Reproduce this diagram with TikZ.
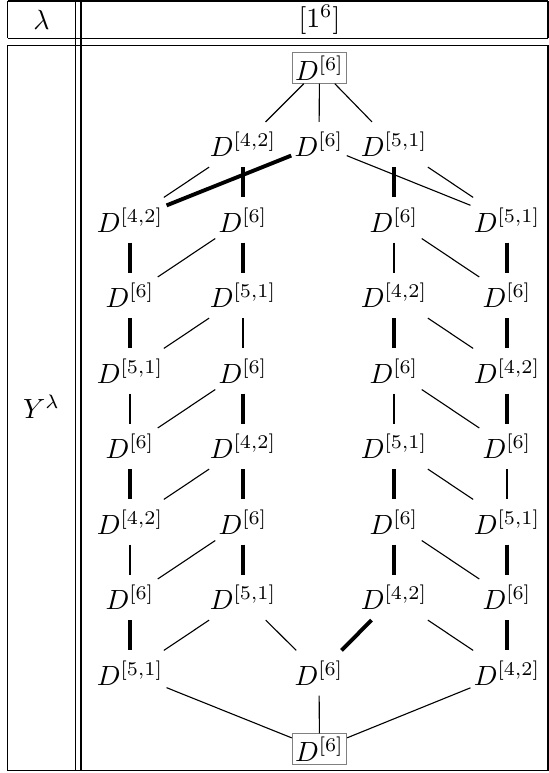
\documentclass[tikz,border=0pt]{standalone}
\usepackage{amsmath}
\newcommand{\Dsix}{D^{[6]}}
\newcommand{\Dft}{D^{[4,2]}}
\newcommand{\Dfo}{D^{[5,1]}}
\begin{document}
\begin{tikzpicture}[x=0.36pt,y=-0.36pt,
  mod/.style={inner xsep=1pt,inner ysep=3.5pt},
  boxed/.style={draw=gray,inner sep=1pt},
  heavy/.style={line width=1.4pt}]
\useasboundingbox (0,0) rectangle (549,773);
% table rules
\draw (7.5,1) -- (548,1);
\draw (7.5,38.5) -- (548,38.5);
\draw (7.5,45.5) -- (548,45.5);
\draw (7.5,770.5) -- (548,770.5);
\draw (7.5,1) -- (7.5,38.5) (7.5,45.5) -- (7.5,770.5);
\draw (548,1) -- (548,38.5) (548,45.5) -- (548,770.5);
\draw (75.5,1) -- (75.5,770.5) (81,1) -- (81,770.5);
\node (lam) at (41.5,20) {$\lambda$};
\node (part) at (319.5,20) {$[1^6]$};
\node (Y) at (41.5,407) {$Y^\lambda$};
% module structure
\node[boxed] (t) at (319.5,68) {$\Dsix$};
\node[mod] (a1) at (243,144.5) {$\Dft$};
\node[mod] (b1) at (319,144.5) {$\Dsix$};
\node[mod] (c1) at (394,144.5) {$\Dfo$};
\foreach \r/\la/\lb/\lc/\ld in {2/\Dft/\Dsix/\Dsix/\Dfo, 3/\Dsix/\Dfo/\Dft/\Dsix,
    4/\Dfo/\Dsix/\Dsix/\Dft, 5/\Dsix/\Dft/\Dfo/\Dsix, 6/\Dft/\Dsix/\Dsix/\Dfo,
    7/\Dsix/\Dfo/\Dft/\Dsix} {
  \node[mod] (a\r) at (130,{69+75.5*\r}) {$\la$};
  \node[mod] (b\r) at (243,{69+75.5*\r}) {$\lb$};
  \node[mod] (c\r) at (394,{69+75.5*\r}) {$\lc$};
  \node[mod] (d\r) at (507,{69+75.5*\r}) {$\ld$};
}
\node[mod] (a8) at (130,673) {$\Dfo$};
\node[mod] (m8) at (319,673) {$\Dsix$};
\node[mod] (d8) at (507,673) {$\Dft$};
\node[boxed] (bot) at (319.5,749) {$\Dsix$};
% thin edges
\foreach \u/\v in {t/a1,t/b1,t/c1,a1/a2,b1/d2,c1/d2,
    b2/a3,c2/c3,c2/d3, b3/a4,b3/b4,c3/d4, a4/a5,b4/a5,c4/c5,c4/d5,
    b5/a6,c5/d6,d5/d6, a6/a7,b6/a7,c6/d7, b7/a8,b7/m8,c7/d8,
    a8/bot,m8/bot,d8/bot}
  \draw (\u) -- (\v);
% thick edges
\foreach \u/\v in {a1/b2,b1/a2,c1/c2, a2/a3,b2/b3,d2/d3, a3/a4,c3/c4,d3/d4,
    b4/b5,d4/d5, a5/a6,b5/b6,c5/c6, b6/b7,c6/c7,d6/d7, a7/a8,c7/m8,d7/d8}
  \draw[heavy] (\u) -- (\v);
\end{tikzpicture}
\end{document}
